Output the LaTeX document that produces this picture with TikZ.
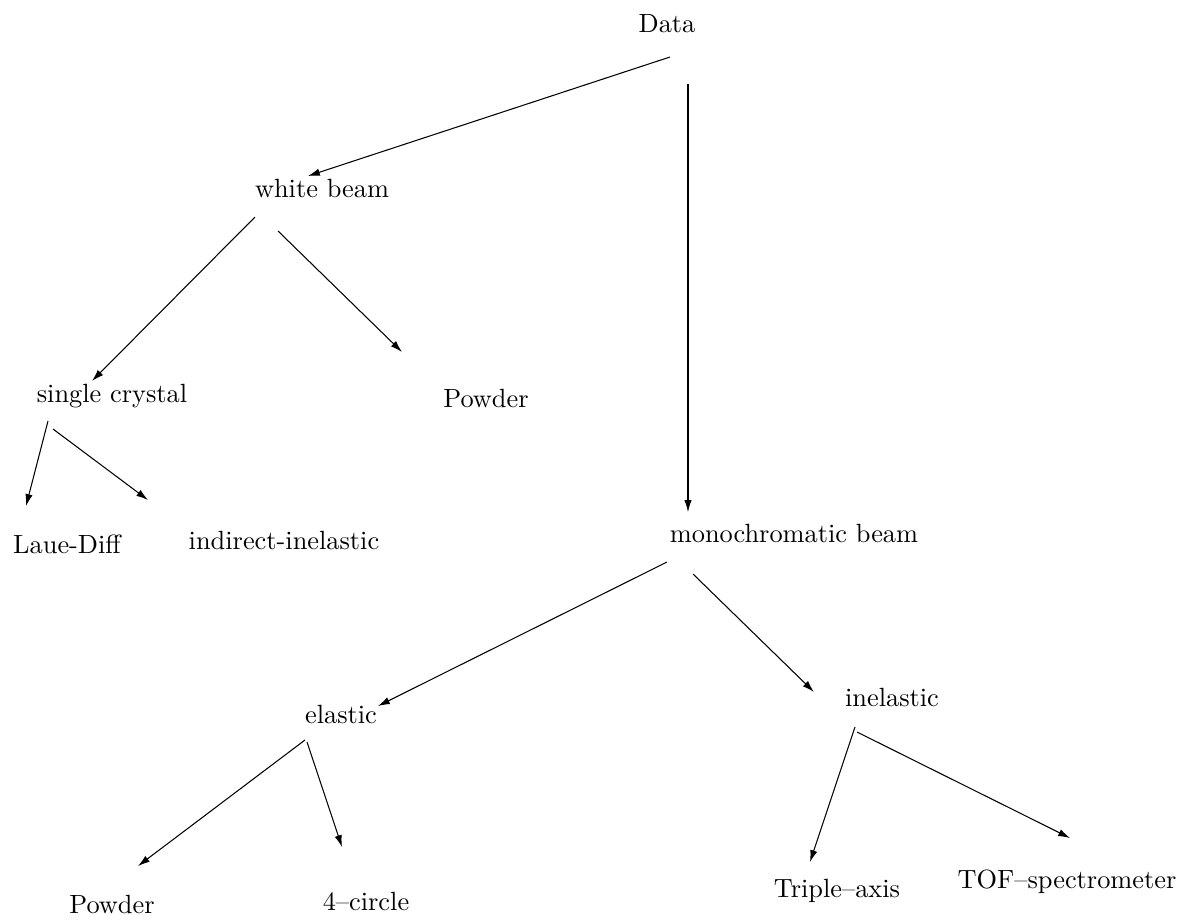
\documentclass[tikz,border=0pt]{standalone}
\usepackage{tikz}
\usetikzlibrary{arrows.meta}

\begin{document}
\begin{tikzpicture}[x=0.3795pt,y=-0.3795pt,
  every node/.style={anchor=base,inner sep=0pt},
  arr/.style={thin,-{Latex[length=4.5pt,width=2.8pt]}}]
\useasboundingbox (0,0) rectangle (1185,920);
% labels, placed at their base lines
\foreach \n/\x/\y/\t in {data/667/32/Data, wb/322/197/white beam,
  sc/112/402/single crystal, pw/486/407/Powder, laue/67/553/Laue-Diff,
  ind/284/549/indirect-inelastic, mono/794/542/monochromatic beam,
  el/341/723/elastic, inel/892/706/inelastic, pwb/112/913/Powder,
  fc/366/910/4--circle, tri/837/897/Triple--axis, tof/1067/888/TOF--spectrometer}
  \node (\n) at (\x,\y) {\t};
% arrows: from node / offset  to node / offset
\foreach \a/\sa/\b/\sb in {data/{3,25}/wb/{-14,-21}, data/{21,52}/mono/{-106,-30},
  wb/{-67,20}/sc/{-20,-21}, wb/{-44,34}/pw/{-84,-55},
  sc/{-64,19}/laue/{-41,-47}, sc/{-59,27}/ind/{-136,-49},
  mono/{-127,20}/el/{37,-17}, mono/{-101,32}/inel/{-78,-14},
  el/{-36,17}/pwb/{26,-47}, el/{-34,19}/fc/{-24,-63},
  inel/{-37,21}/tri/{-27,-35}, inel/{-35,26}/tof/{3,-50}}
  \draw[arr] ([shift={(\sa)}]\a.base) -- ([shift={(\sb)}]\b.base);
\end{tikzpicture}
\end{document}
